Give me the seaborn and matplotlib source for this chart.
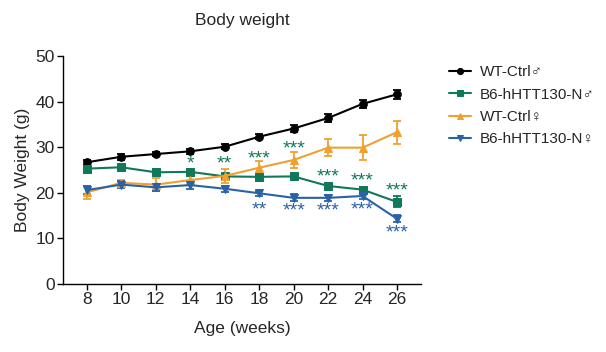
import seaborn as sns
import matplotlib.pyplot as plt
import numpy as np
import pandas as pd

# Data
weeks = [8, 10, 12, 14, 16, 18, 20, 22, 24, 26]
groups = ["WT-Ctrl♂", "B6-hHTT130-N♂", "WT-Ctrl♀", "B6-hHTT130-N♀"]

wt_male = [26.7, 27.9, 28.5, 29.1, 30.1, 32.3, 34.1, 36.4, 39.5, 41.6]
wt_male_err = [0.5, 0.6, 0.5, 0.5, 0.5, 0.6, 0.8, 0.8, 0.8, 1.0]
htt_male = [25.3, 25.6, 24.5, 24.6, 23.6, 23.5, 23.6, 21.5, 20.7, 18.0]
htt_male_err = [0.6, 0.6, 0.7, 0.6, 0.6, 0.5, 0.5, 0.7, 0.6, 1.2]
wt_female = [20.1, 22.2, 21.8, 22.8, 23.7, 25.5, 27.2, 29.9, 29.9, 33.3]
wt_female_err = [1.5, 0.7, 1.4, 1.0, 1.6, 1.5, 1.8, 1.8, 2.8, 2.5]
htt_female = [20.6, 21.8, 21.2, 21.7, 20.9, 19.9, 18.9, 18.9, 19.3, 14.3]
htt_female_err = [0.8, 0.7, 0.7, 0.8, 0.7, 0.6, 0.8, 0.7, 0.6, 0.8]

# significance marks (text, y position)
male_stars = ["", "", "", "*", "**", "***", "***", "***", "***", "***"]
male_star_y = [0, 0, 0, 27.5, 27.5, 28.6, 30.9, 24.7, 23.9, 21.5]
female_stars = ["", "", "", "", "", "**", "***", "***", "***", "***"]
female_star_y = [0, 0, 0, 0, 0, 17.5, 17.2, 17.2, 17.4, 12.5]

colors = ["black", "#11785a", "#f0a031", "#2a62a6"]
markers = ["o", "s", "^", "v"]
sizes = [5.5, 6, 6, 6]

sns.set_style("ticks")
plt.rcParams['font.family'] = ['Liberation Sans', 'DejaVu Sans']

df = pd.DataFrame({
    "Age": weeks * 4,
    "Weight": wt_male + htt_male + wt_female + htt_female,
    "Err": wt_male_err + htt_male_err + wt_female_err + htt_female_err,
    "Group": np.repeat(groups, len(weeks)),
})

fig = plt.figure(figsize=(6.06, 3.52), dpi=100)
ax = fig.add_axes([0.104, 0.193, 0.591, 0.648])

for g, c, m, s in zip(groups, colors, markers, sizes):
    d = df[df["Group"] == g]
    ax.errorbar(d["Age"], d["Weight"], yerr=d["Err"], fmt="none", ecolor=c,
                elinewidth=1.3, capsize=3, capthick=1.3, zorder=2)
    sns.lineplot(x="Age", y="Weight", data=d, ax=ax, color=c, marker=m,
                 markersize=s, markeredgecolor=c, linewidth=1.5, label=g,
                 zorder=3)

for x, t, y in zip(weeks, male_stars, male_star_y):
    if t:
        ax.text(x, y - 1.2, t, color=colors[1], ha="center", va="center",
                fontsize=14)
for x, t, y in zip(weeks, female_stars, female_star_y):
    if t:
        ax.text(x, y - 1.2, t, color=colors[3], ha="center", va="center",
                fontsize=14)

ax.set_xlim(6.62, 27.4)
ax.set_ylim(0, 50)
ax.set_xticks(weeks)
ax.set_yticks([0, 10, 20, 30, 40, 50])
ax.tick_params(labelsize=12.5, width=1, length=4, color="black", pad=2)
for sp in ["left", "bottom"]:
    ax.spines[sp].set_linewidth(1)
    ax.spines[sp].set_color("black")
sns.despine(ax=ax)

ax.set_title("Body weight", fontsize=12.5, pad=22)
ax.set_xlabel("Age (weeks)", fontsize=12.5, labelpad=10)
ax.set_ylabel("Body Weight (g)", fontsize=12.5, labelpad=4)

leg = ax.legend(loc="upper left", bbox_to_anchor=(1.04, 1.02), frameon=False,
                fontsize=11, handlelength=1.4, handletextpad=0.6,
                labelspacing=0.55, markerscale=0.8)

plt.savefig("out.png", dpi=100)
